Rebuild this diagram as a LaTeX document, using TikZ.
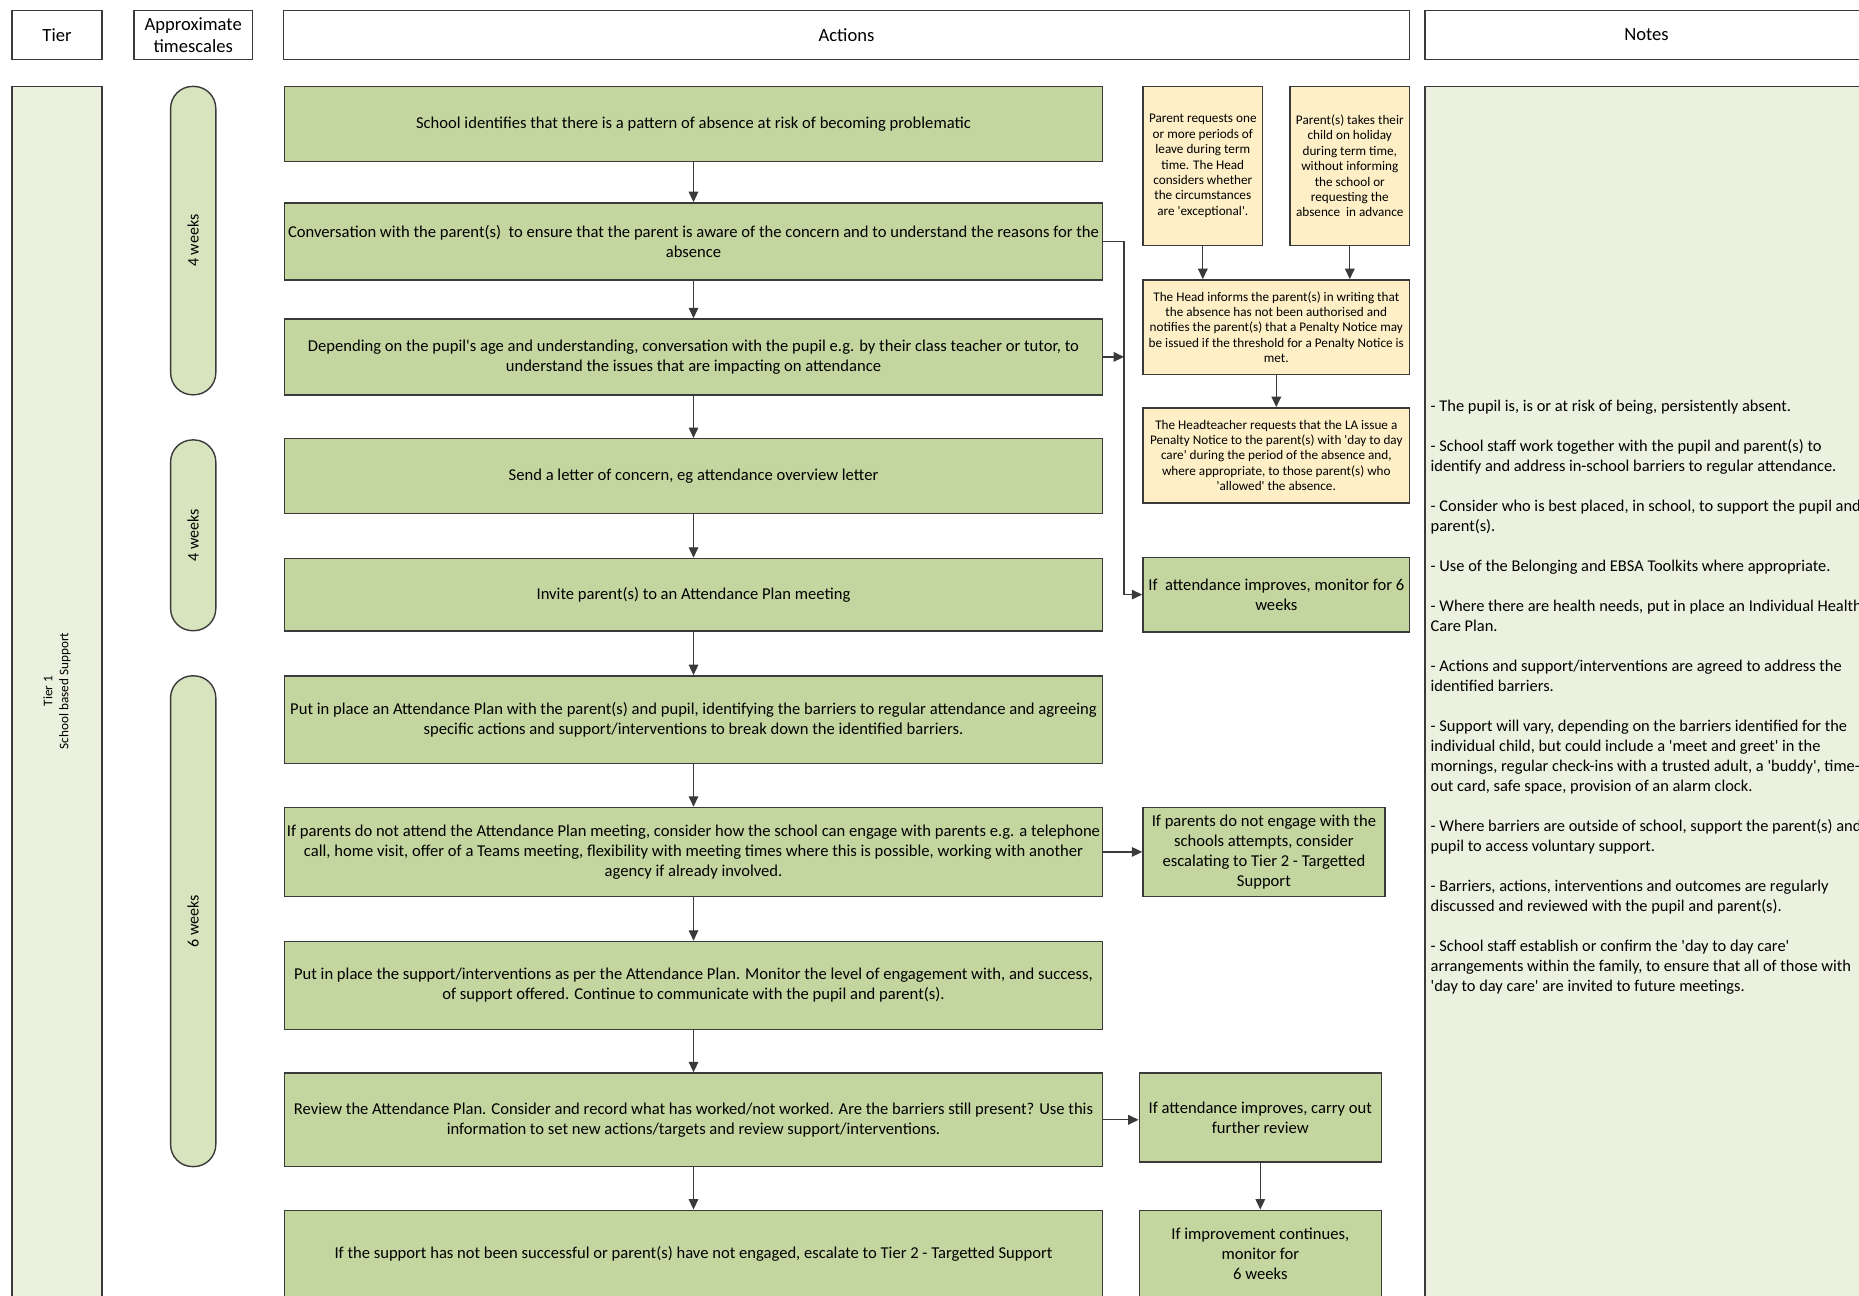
\documentclass[tikz,border=0pt]{standalone}
\usepackage{fontspec}
\setmainfont{Carlito}
\usetikzlibrary{arrows.meta}
\definecolor{actgreen}{HTML}{C4D6A0}
\definecolor{pillgreen}{HTML}{D7E4BD}
\definecolor{palegreen}{HTML}{EBF1DE}
\definecolor{notecream}{HTML}{FEEFC6}
\definecolor{edgegrey}{HTML}{3A3A3A}
\newcommand{\q}{\textquotesingle}
\begin{document}
\begin{tikzpicture}[x=0.5pt,y=-0.5pt,
      every node/.style={draw=edgegrey, line width=0.7pt, align=center, inner sep=1pt},
      hdr/.style={fill=white, font=\fontsize{9.3}{11.3}\selectfont, minimum height=24.3pt},
      actbox/.style={fill=actgreen, font=\fontsize{8.3}{10}\selectfont, minimum width=409pt},
      sidebox/.style={fill=actgreen, font=\fontsize{8.3}{10}\selectfont},
      headbox/.style={fill=notecream, font=\fontsize{6.6}{7.7}\selectfont},
      pill/.style={fill=pillgreen, rotate=90, rounded corners=11pt, minimum height=22.6pt,
        font=\fontsize{8}{10}\selectfont},
      arr/.style={draw=edgegrey, line width=0.6pt, -{Triangle[length=5.2pt,width=4.8pt]}}]
      \useasboundingbox (0,0) rectangle (1859,1296);
      \node[hdr, minimum width=45pt] (htier) at (57,35) {Tier};
      \node[hdr, minimum width=59.3pt] (htime) at (193.2,35) {Approximate\\timescales};
      \node[hdr, minimum width=563.2pt] (hact) at (846.5,35) {Actions};
      \node[hdr, minimum width=221.5pt] (hnote) at (1646.5,35) {Notes};
      \node[fill=palegreen, minimum width=45pt, minimum height=607pt] (tiercol) at (57,693.3) {};
      \node[draw=none, rotate=90, font=\fontsize{6.6}{8}\selectfont] (tiertxt) at (57,691)
        {Tier 1\\School based Support};
      \node[fill=palegreen, minimum width=221.5pt, minimum height=607pt] (notecol) at (1646.5,693.3) {};
      \node[draw=none, anchor=north west, align=left, font=\fontsize{8.2}{10}\selectfont] (notes) at (1428,397.5)
        {- The pupil is, is or at risk of being, persistently absent.\\[10pt]
         - School staff work together with the pupil and parent(s) to\\
         identify and address in-school barriers to regular attendance.\\[10pt]
         - Consider who is best placed, in school, to support the pupil and\\
         parent(s).\\[10pt]
         - Use of the Belonging and EBSA Toolkits where appropriate.\\[10pt]
         - Where there are health needs, put in place an Individual Health\\
         Care Plan.\\[10pt]
         - Actions and support/interventions are agreed to address the\\
         identified barriers.\\[10pt]
         - Support will vary, depending on the barriers identified for the\\
         individual child, but could include a \q meet and greet\q\ in the\\
         mornings, regular check-ins with a trusted adult, a \q buddy\q, time-\\
         out card, safe space, provision of an alarm clock.\\[10pt]
         - Where barriers are outside of school, support the parent(s) and\\
         pupil to access voluntary support.\\[10pt]
         - Barriers, actions, interventions and outcomes are regularly\\
         discussed and reviewed with the pupil and parent(s).\\[10pt]
         - School staff establish or confirm the \q day to day care\q\\
         arrangements within the family, to ensure that all of those with\\
         \q day to day care\q\ are invited to future meetings.};
      \node[pill, minimum width=154.2pt] (wk1) at (193.2,240.6) {4 weeks};
      \node[pill, minimum width=95.4pt] (wk2) at (193.2,535.3) {4 weeks};
      \node[pill, minimum width=245.4pt] (wk3) at (193.2,921.2) {6 weeks};
      \node[actbox, minimum height=37.4pt] (b1) at (693.5,123.9)
        {School identifies that there is a pattern of absence at risk of becoming problematic};
      \node[actbox, minimum height=38.5pt] (b2) at (693.5,241.3)
        {Conversation with the parent(s)\ \ to ensure that the parent is aware of the concern and to understand the reasons for the\\absence};
      \node[actbox, minimum height=38pt] (b3) at (693.5,356.9)
        {Depending on the pupil\q s age and understanding, conversation with the pupil e.g. by their class teacher or tutor, to\\understand the issues that are impacting on attendance};
      \node[actbox, minimum height=37.4pt] (b4) at (693.5,476)
        {Send a letter of concern, eg attendance overview letter};
      \node[actbox, minimum height=36.2pt] (b5) at (693.5,594.6)
        {Invite parent(s) to an Attendance Plan meeting};
      \node[actbox, minimum height=43.9pt] (b6) at (693.5,719.7)
        {Put in place an Attendance Plan with the parent(s) and pupil, identifying the barriers to regular attendance and agreeing\\specific actions and support/interventions to break down the identified barriers.};
      \node[actbox, minimum height=44.5pt] (b7) at (693.5,851.9)
        {If parents do not attend the Attendance Plan meeting, consider how the school can engage with parents e.g. a telephone\\call, home visit, offer of a Teams meeting, flexibility with meeting times where this is possible, working with another\\agency if already involved.};
      \node[actbox, minimum height=43.9pt] (b8) at (693.5,985.3)
        {Put in place the support/interventions as per the Attendance Plan. Monitor the level of engagement with, and success,\\of support offered. Continue to communicate with the pupil and parent(s).};
      \node[actbox, minimum height=46.8pt] (b9) at (693.5,1119.8)
        {Review the Attendance Plan. Consider and record what has worked/not worked. Are the barriers still present? Use this\\information to set new actions/targets and review support/interventions.};
      \node[actbox, minimum height=43.8pt] (b10) at (693.5,1254)
        {If the support has not been successful or parent(s) have not engaged, escalate to Tier 2 - Targetted Support};
      \node[headbox, minimum width=59.9pt, minimum height=79.5pt] (y1) at (1202.8,166)
        {Parent requests one\\or more periods of\\leave during term\\time. The Head\\considers whether\\the circumstances\\are \q exceptional\q.};
      \node[headbox, minimum width=59.9pt, minimum height=79.5pt] (y2) at (1349.8,166)
        {Parent(s) takes their\\child on holiday\\during term time,\\without informing\\the school or\\requesting the\\absence\ \ in advance};
      \node[headbox, minimum width=133.4pt, minimum height=47.4pt] (y3) at (1276.3,327.2)
        {The Head informs the parent(s) in writing that\\the absence has not been authorised and\\notifies the parent(s) that a Penalty Notice may\\be issued if the threshold for a Penalty Notice is\\met.};
      \node[headbox, minimum width=133.4pt, minimum height=47.5pt] (y4) at (1276.3,455.3)
        {The Headteacher requests that the LA issue a\\Penalty Notice to the parent(s) with \q day to day\\care\q\ during the period of the absence and,\\where appropriate, to those parent(s) who\\\q allowed\q\ the absence.};
      \node[sidebox, minimum width=133.4pt, minimum height=37.4pt] (g1) at (1276.3,594.6)
        {If\ \ attendance improves, monitor for 6\\weeks};
      \node[sidebox, minimum width=121pt, minimum height=44.5pt] (g2) at (1263.9,851.9)
        {If parents do not engage with the\\schools attempts, consider\\escalating to Tier 2 - Targetted\\Support};
      \node[sidebox, minimum width=121pt, minimum height=44.5pt] (g3) at (1260.3,1117.5)
        {If attendance improves, carry out\\further review};
      \node[sidebox, minimum width=121pt, minimum height=43.8pt] (g4) at (1260.3,1254)
        {If improvement continues,\\monitor for\\6 weeks};
      \coordinate (jn) at (1124,241.3);
      \draw[arr] (b1.south) -- (b2.north);
      \draw[arr] (b2.south) -- (b3.north);
      \draw[arr] (b3.south) -- (b4.north);
      \draw[arr] (b4.south) -- (b5.north);
      \draw[arr] (b5.south) -- (b6.north);
      \draw[arr] (b6.south) -- (b7.north);
      \draw[arr] (b7.south) -- (b8.north);
      \draw[arr] (b8.south) -- (b9.north);
      \draw[arr] (b9.south) -- (b10.north);
      \draw[arr] (b2.east) -- (jn) |- (g1.west);
      \draw[arr] (b3.east) -- (b3.east -| jn);
      \draw[arr] (y1.south) -- (y1.south |- y3.north);
      \draw[arr] (y2.south) -- (y2.south |- y3.north);
      \draw[arr] (y3.south) -- (y4.north);
      \draw[arr] (b7.east) -- (g2.west);
      \draw[arr] (b9.east) -- (b9.east -| g3.west);
      \draw[arr] (g3.south) -- (g4.north);
\end{tikzpicture}
\end{document}
